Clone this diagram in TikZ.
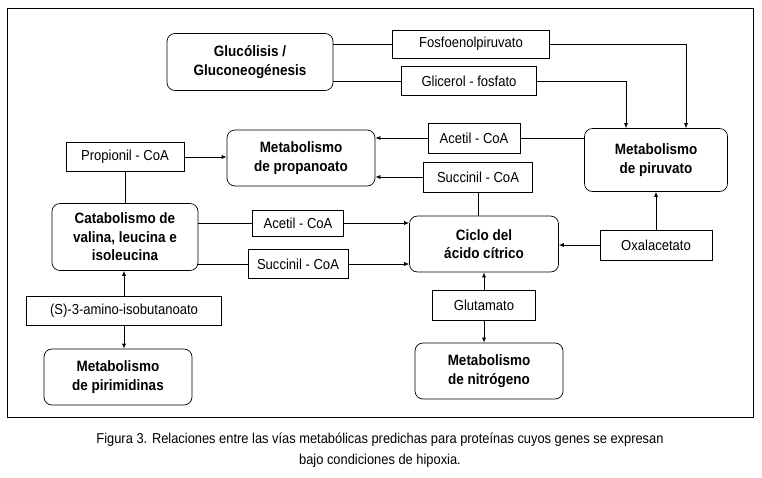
\documentclass[tikz,border=0pt]{standalone}
\usepackage{fontspec}
\setmainfont{Liberation Sans}[FakeStretch=0.9]
\usetikzlibrary{arrows.meta}

\tikzset{
  via/.style={draw, rounded corners=8pt, align=center, inner sep=0pt,
    font=\fontsize{15}{18.5}\selectfont\bfseries},
  compuesto/.style={draw, align=center, inner sep=0pt,
    font=\fontsize{14.5}{16}\selectfont},
  flecha/.style={-{Latex[length=5pt,width=4pt]}}
}

\begin{document}
\begin{tikzpicture}[x=1pt, y=-1pt, line width=0.7pt]
        \useasboundingbox (0,0) rectangle (762,477);
        \draw (7,8) rectangle (753,417);
        % vias
        \node[via, minimum width=166pt, minimum height=57pt] (gluc) at (250,62) {Glucólisis /\\Gluconeogénesis};
        \node[via, minimum width=143pt, minimum height=63pt] (piruvato) at (656,160) {Metabolismo\\de piruvato};
        \node[via, minimum width=148pt, minimum height=56pt] (propanoato) at (301,158) {Metabolismo\\de propanoato};
        \node[via, minimum width=146pt, minimum height=67pt] (catab) at (125,237) {Catabolismo de\\valina, leucina e\\isoleucina};
        \node[via, minimum width=149pt, minimum height=56pt] (ciclo) at (484,244) {Ciclo del\\ácido cítrico};
        \node[via, minimum width=148pt, minimum height=56pt] (nitrogeno) at (489,371) {Metabolismo\\de nitrógeno};
        \node[via, minimum width=148pt, minimum height=56pt] (pirimidinas) at (118,377) {Metabolismo\\de pirimidinas};
        % compuestos
        \node[compuesto, minimum width=157pt, minimum height=28pt] (fosfo) at (471,44) {Fosfoenolpiruvato};
        \node[compuesto, minimum width=135pt, minimum height=29pt] (glicerol) at (469,81) {Glicerol - fosfato};
        \node[compuesto, minimum width=92pt, minimum height=30pt] (acetilA) at (474,138) {Acetil - CoA};
        \node[compuesto, minimum width=109pt, minimum height=30pt] (succinilA) at (478,177) {Succinil - CoA};
        \node[compuesto, minimum width=118pt, minimum height=29pt] (propionil) at (125,157) {Propionil - CoA};
        \node[compuesto, minimum width=91pt, minimum height=26pt] (acetilB) at (298,223) {Acetil - CoA};
        \node[compuesto, minimum width=100pt, minimum height=29pt] (succinilB) at (298,264) {Succinil - CoA};
        \node[compuesto, minimum width=112pt, minimum height=30pt] (oxal) at (656,245) {Oxalacetato};
        \node[compuesto, minimum width=103pt, minimum height=30pt] (glutamato) at (484,305) {Glutamato};
        \node[compuesto, minimum width=195pt, minimum height=29pt] (amino) at (124,311) {(S)-3-amino-isobutanoato};
        % conexiones
        \draw (gluc.east |- fosfo) -- (fosfo);
        \draw[flecha] (fosfo.east) -| ([xshift=30pt]piruvato.north);
        \draw (gluc.east |- glicerol) -- (glicerol);
        \draw[flecha] (glicerol.east) -| ([xshift=-30pt]piruvato.north);
        \draw (piruvato.west |- acetilA) -- (acetilA);
        \draw[flecha] (acetilA) -- (propanoato.east |- acetilA);
        \draw[flecha] (succinilA) -- (propanoato.east |- succinilA);
        \draw (succinilA) -- (succinilA |- ciclo.north);
        \draw[flecha] (propionil) -- (propanoato.west |- propionil);
        \draw (propionil) -- (propionil |- catab.north);
        \draw (catab.east |- acetilB) -- (acetilB);
        \draw[flecha] (acetilB) -- (ciclo.west |- acetilB);
        \draw (catab.east |- succinilB) -- (succinilB);
        \draw[flecha] (succinilB) -- (ciclo.west |- succinilB);
        \draw[flecha] (oxal) -- (ciclo.east |- oxal);
        \draw[flecha] (oxal) -- (oxal |- piruvato.south);
        \draw[flecha] (glutamato) -- (glutamato |- ciclo.south);
        \draw[flecha] (glutamato) -- (glutamato |- nitrogeno.north);
        \draw[flecha] (amino) -- (amino |- catab.south);
        \draw[flecha] (amino) -- (amino |- pirimidinas.north);
        % leyenda
        \node[align=center, font=\fontsize{14.3}{21}\selectfont] (leyenda) at (380,450) {Figura 3. Relaciones entre las vías metabólicas predichas para proteínas cuyos genes se expresan\\bajo condiciones de hipoxia.};
    \end{tikzpicture}
\end{document}
